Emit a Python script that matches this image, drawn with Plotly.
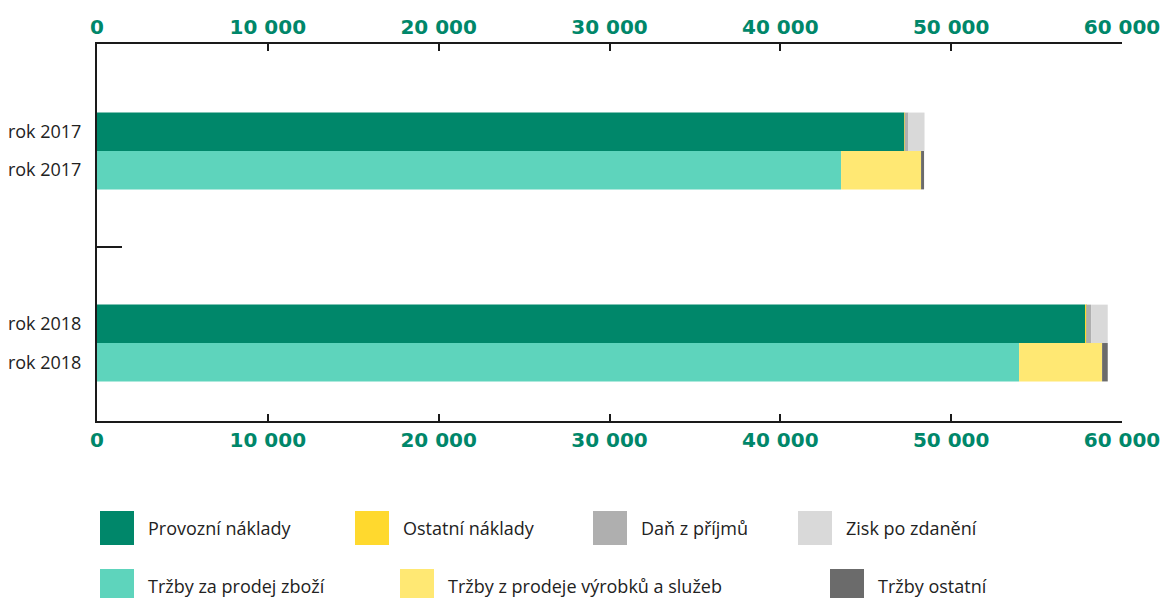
import plotly.graph_objects as go

# data
years = ["rok 2017", "rok 2018"]

provozni_naklady = [47240, 57840]
ostatni_naklady = [30, 60]
dan_z_prijmu = [230, 290]
zisk_po_zdaneni = [940, 975]

trzby_zbozi = [43555, 53975]
trzby_vyrobky = [4683, 4860]
trzby_ostatni = [175, 330]

cost_series = [
    ("Provozní náklady", provozni_naklady, "#00876A"),
    ("Ostatní náklady", ostatni_naklady, "#FFD92E"),
    ("Daň z příjmů", dan_z_prijmu, "#AFAFAF"),
    ("Zisk po zdanění", zisk_po_zdaneni, "#D9D9D9"),
]
revenue_series = [
    ("Tržby za prodej zboží", trzby_zbozi, "#5ED4BC"),
    ("Tržby z prodeje výrobků a služeb", trzby_vyrobky, "#FFE873"),
    ("Tržby ostatní", trzby_ostatni, "#6B6B6B"),
]

GREEN = "#00876A"
W, H = 1164, 598
PL, PR, PT, PB = 97, 1122, 44, 421   # plot area in pixels
PW, PH = PR - PL, PB - PT

# each year gets two bars: costs above, revenues below
cost_pos = [i - 0.1 for i in range(len(years))]
rev_pos = [i + 0.1 for i in range(len(years))]

fig = go.Figure()


def add_stack(names_vals, ypos):
    base = [0] * len(ypos)
    for name, vals, color in names_vals:
        fig.add_trace(go.Bar(
            x=vals, y=ypos, base=base, orientation="h", width=0.2,
            name=name, marker=dict(color=color, line=dict(width=0)),
            showlegend=False,
        ))
        base = [b + v for b, v in zip(base, vals)]


add_stack(cost_series, cost_pos)
add_stack(revenue_series, rev_pos)

# invisible trace so the top axis is drawn
fig.add_trace(go.Scatter(x=[0, 60000], y=[0, 0], xaxis="x2", mode="markers",
                         marker=dict(opacity=0), hoverinfo="skip", showlegend=False))

axis_common = dict(
    range=[0, 60000], tickvals=list(range(0, 60001, 10000)), tickformat=",d",
    showgrid=False, zeroline=False, showline=True, linecolor="#1a1a1a", linewidth=2,
    ticks="inside", ticklen=7, tickwidth=2, tickcolor="#1a1a1a", automargin=False,
    tickfont=dict(family="DejaVu Sans", size=20, color=GREEN, weight="bold"),
)

fig.update_layout(
    width=W, height=H,
    margin=dict(l=PL, r=W - PR, t=PT, b=H - PB),
    plot_bgcolor="white", paper_bgcolor="white",
    separators=", ",
    barmode="overlay",
    xaxis=dict(side="bottom", **axis_common),
    xaxis2=dict(side="top", overlaying="x", **axis_common),
    yaxis=dict(
        range=[1.406, -0.557], showgrid=False, zeroline=False, automargin=False,
        showline=True, linecolor="#1a1a1a", linewidth=2,
        tickvals=cost_pos + rev_pos, ticktext=years + years,
        ticks="", ticklabelstandoff=10,
        tickfont=dict(family="Open Sans", size=18, color="#222222"),
    ),
)

# short divider tick between the two years
fig.add_shape(type="line", xref="paper", yref="y", x0=0, x1=25 / PW, y0=0.5, y1=0.5,
              line=dict(color="#1a1a1a", width=2))


# legend drawn by hand (two rows), positions in pixels
def px_x(px):
    return (px - PL) / PW


def px_y(py):
    return (PB - py) / PH


legend_rows = [
    (528, [100, 355, 593, 798], cost_series),
    (586, [100, 400, 830], revenue_series),
]
for cy, xs, series in legend_rows:
    for x0, (name, _, color) in zip(xs, series):
        fig.add_shape(type="rect", xref="paper", yref="paper",
                      x0=px_x(x0), x1=px_x(x0 + 34), y0=px_y(cy + 17), y1=px_y(cy - 17),
                      fillcolor=color, line=dict(width=0), layer="above")
        fig.add_annotation(xref="paper", yref="paper", x=px_x(x0 + 46), y=px_y(cy),
                           text=name, showarrow=False, xanchor="left", yanchor="middle",
                           font=dict(family="Open Sans", size=18, color="#222222"))

# drop the default page margin so the figure fills the window exactly
fig.write_html("out.html", config={"displayModeBar": False},
               post_script="document.body.style.margin='0';document.body.style.overflow='hidden';")
